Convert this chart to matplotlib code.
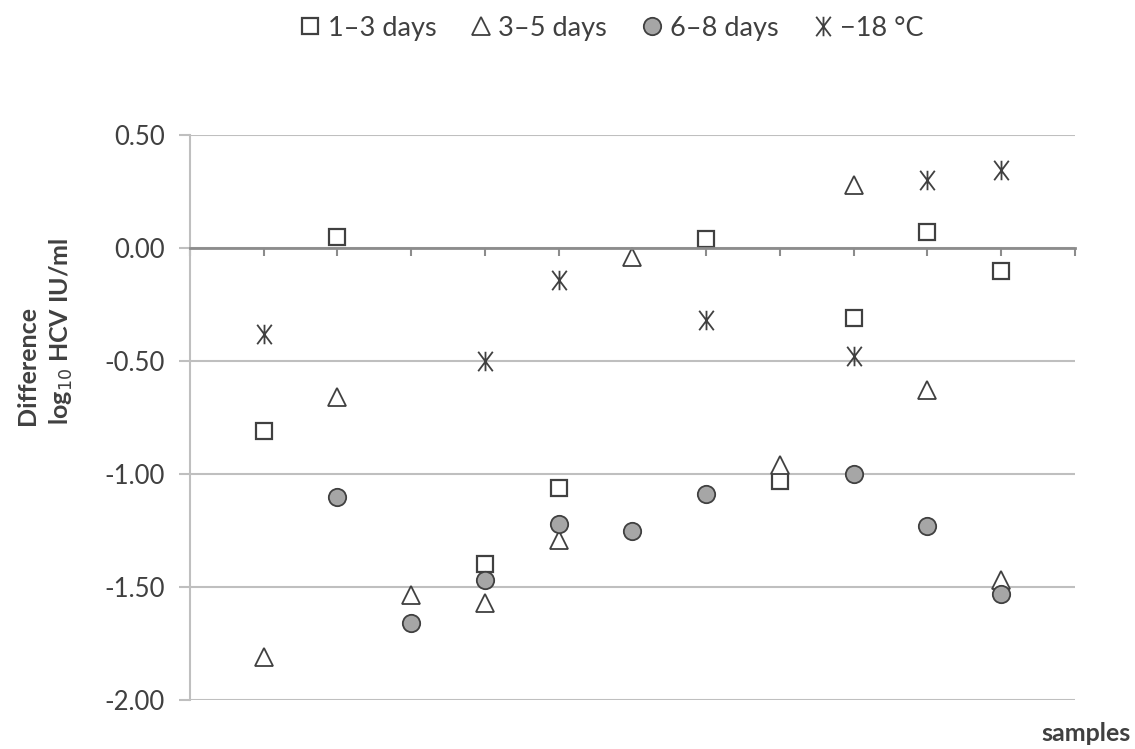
import numpy as np
import matplotlib
matplotlib.use('Agg')
import matplotlib.pyplot as plt
from matplotlib.path import Path

plt.rcParams['font.family'] = ['Lato', 'DejaVu Sans']

# samples 1..11, nan = no point shown
samples = np.arange(1, 12)
days_1_3 = [-0.81, 0.05, np.nan, -1.40, -1.06, np.nan, 0.04, -1.03, -0.31, 0.07, -0.10]
days_3_5 = [-1.81, -0.66, -1.535, -1.57, -1.29, -0.04, np.nan, -0.96, 0.28, -0.63, -1.47]
days_6_8 = [np.nan, -1.10, -1.66, -1.47, -1.22, -1.25, -1.09, np.nan, -1.00, -1.23, -1.53]
frozen = [-0.38, np.nan, np.nan, -0.50, -0.14, np.nan, -0.32, np.nan, -0.48, 0.30, 0.345]

dark = '#404040'
grey = '#a6a6a6'
axcol = '#8c8c8c'

# X with a vertical bar, like the excel star marker
star = Path([(-0.75, -1), (0.75, 1), (-0.75, 1), (0.75, -1), (0, -1), (0, 1)],
            [Path.MOVETO, Path.LINETO, Path.MOVETO, Path.LINETO, Path.MOVETO, Path.LINETO])

fig = plt.figure(figsize=(11.35, 7.49), dpi=100)
ax = fig.add_axes([0.1674, 0.0654, 0.7797, 0.7544])

ax.plot(samples, days_1_3, ls='none', marker='s', ms=12, mfc='white', mec=dark, mew=1.6, label='1\u20133 days')
ax.plot(samples, days_3_5, ls='none', marker='^', ms=12.5, mfc='white', mec=dark, mew=1.3, label='3\u20135 days')
ax.plot(samples, days_6_8, ls='none', marker='o', ms=12.5, mfc=grey, mec=dark, mew=1.3, label='6\u20138 days')
ax.plot(samples, frozen, ls='none', marker=star, ms=14, mec=dark, mew=1.3, label='\u221218 \u00b0C')

ax.set_xlim(0, 12)
ax.set_ylim(-2.0, 0.5)
ax.set_yticks(np.arange(-2.0, 0.51, 0.5))
ax.set_yticklabels(['%.2f' % v for v in np.arange(-2.0, 0.51, 0.5)], fontsize=18.5, color=dark)
ax.set_xticks(np.arange(0, 13))
ax.set_xticklabels([])

ax.grid(axis='y', color='#bfbfbf', lw=1.5)
ax.set_axisbelow(True)
ax.spines['top'].set_visible(False)
ax.spines['right'].set_visible(False)
ax.spines['bottom'].set_position(('data', 0))
ax.spines['bottom'].set_color(axcol)
ax.spines['bottom'].set_linewidth(2)
ax.spines['left'].set_color('#bfbfbf')
ax.spines['left'].set_linewidth(1.5)
ax.tick_params(axis='x', direction='out', length=6, width=1.5, color=axcol)
ax.tick_params(axis='y', direction='out', length=8, width=1.5, color='#bfbfbf', pad=10)

# y label sits above the axes middle, lines left-aligned
fig.text(0.040, 1 - 331 / 749, 'Difference\nlog$_{10}$ HCV IU/ml', rotation=90, ha='center', va='center',
         multialignment='left', fontsize=18, fontweight='bold', color=dark, linespacing=1.45)
fig.text(0.996, 0.005, 'samples', ha='right', va='bottom', fontsize=18, fontweight='bold', color=dark)

fig.legend(loc='center', bbox_to_anchor=(0.537, 0.962), ncol=4, frameon=False, fontsize=19.5,
           handletextpad=0.1, columnspacing=1.1, handlelength=1.1, labelcolor=dark)

fig.savefig('out.png', dpi=100)
